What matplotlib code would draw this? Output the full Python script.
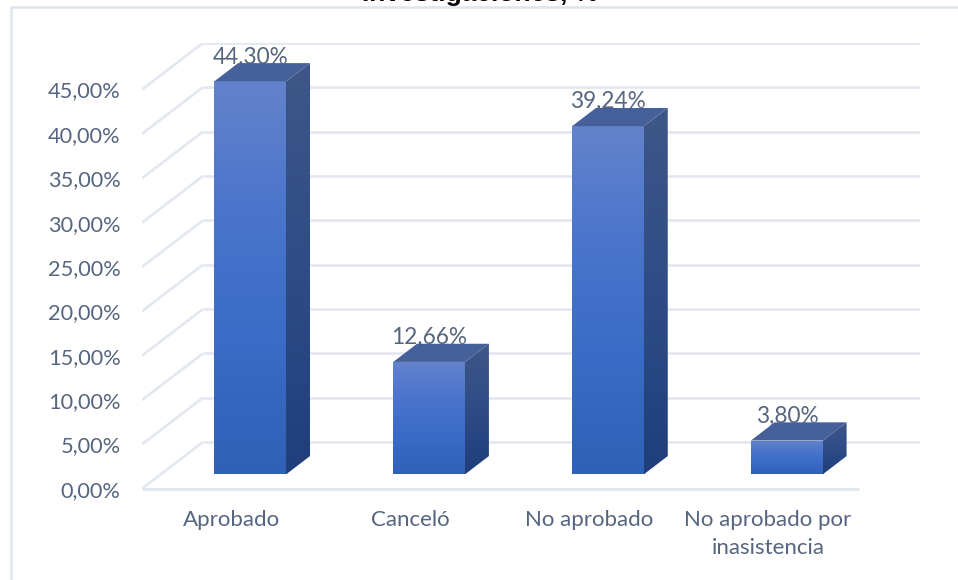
import numpy as np
import matplotlib
matplotlib.use('Agg')
import matplotlib.pyplot as plt
from matplotlib.colors import LinearSegmentedColormap
from matplotlib.lines import Line2D
from matplotlib.patches import Polygon

categories = ['Aprobado', 'Canceló', 'No aprobado', 'No aprobado por\ninasistencia']
values = [44.30, 12.66, 39.24, 3.80]
value_labels = ['44,30%', '12,66%', '39,24%', '3,80%']
y_ticks = [0, 5, 10, 15, 20, 25, 30, 35, 40, 45]
y_tick_labels = ['0,00%', '5,00%', '10,00%', '15,00%', '20,00%', '25,00%', '30,00%', '35,00%', '40,00%', '45,00%']
title = 'Investigaciones, %'

W, H = 958, 580
GRID = '#e3e7f0'
TEXT = '#56657f'

# depth of the 3d box in data units, wall and bars
DX, DY = 0.341, 5.26
BAR_W = 0.402
D0, D1 = 0.31, 0.70

front_cmap = LinearSegmentedColormap.from_list('front', ['#6383cc', '#4a75cb', '#3a6bc6', '#2f61b6'])
side_cmap = LinearSegmentedColormap.from_list('side', ['#3f5788', '#2f4c86', '#1f3e7a'])


def gradient_poly(ax, pts, cmap, z):
    pts = np.array(pts)
    poly = Polygon(pts, closed=True, facecolor='none', edgecolor='none', transform=ax.transData)
    ax.add_patch(poly)
    im = ax.imshow(np.linspace(0, 1, 256).reshape(-1, 1), cmap=cmap, aspect='auto', origin='upper',
                   extent=[pts[:, 0].min(), pts[:, 0].max(), pts[:, 1].min(), pts[:, 1].max()], zorder=z)
    im.set_clip_path(poly)


plt.rcParams['font.family'] = ['Lato', 'DejaVu Sans']
fig = plt.figure(figsize=(W / 100, H / 100), dpi=100)
ax = fig.add_axes([142 / W, (H - 488.7) / H, (920 - 142) / W, (488.7 - 43) / H])

# chart border
fig.add_artist(Line2D([10.5 / W, 10.5 / W, 1], [0, 1 - 7 / H, 1 - 7 / H], color='#dfe5ef', lw=1.8))

# walls
for t in y_ticks:
    ax.plot([-0.5, -0.5 + DX], [t, t + DY], color=GRID, lw=1.9, zorder=1, solid_capstyle='butt')
    ax.plot([-0.5 + DX, 3.85], [t + DY, t + DY], color=GRID, lw=1.9, zorder=1, solid_capstyle='butt')
ax.plot([-0.5, 3.51], [0, 0], color=GRID, lw=2.2, zorder=1, clip_on=False, solid_capstyle='butt')

# bars
for i, v in enumerate(values):
    xl = i - BAR_W / 2 + DX * D0
    xr = xl + BAR_W
    y0 = DY * D0
    ddx = DX * (D1 - D0)
    ddy = DY * (D1 - D0)
    top = y0 + v
    # backing shape so no white seam shows between the faces
    ax.add_patch(Polygon([(xr - 0.005, y0), (xr + 0.005, y0), (xr + 0.005, top), (xr - 0.005, top)],
                         closed=True, facecolor='#2f4c86', edgecolor='none', zorder=4))
    gradient_poly(ax, [(xl, y0), (xr, y0), (xr, top), (xl, top)], front_cmap, 5)
    gradient_poly(ax, [(xr, y0), (xr + ddx, y0 + ddy), (xr + ddx, top + ddy), (xr, top)], side_cmap, 5)
    ax.add_patch(Polygon([(xl, top), (xr, top), (xr + ddx, top + ddy), (xl + ddx, top + ddy)],
                         closed=True, facecolor='#46609a', edgecolor='none', zorder=5))
    ax.text((xl + xr) / 2, top + 2.75, value_labels[i], ha='center', va='center',
            fontsize=16.3, color=TEXT, zorder=3)

ax.set_xlim(-0.5, 3.85)
ax.set_ylim(0, 50.25)
ax.set_xticks(range(len(categories)))
ax.set_xticklabels(categories, fontsize=16, color=TEXT, linespacing=1.5)
ax.set_yticks(y_ticks)
ax.set_yticklabels(y_tick_labels, fontsize=15.7, color=TEXT)
ax.tick_params(axis='x', length=0, pad=15)
ax.tick_params(axis='y', length=0, pad=15.5)
for s in ax.spines.values():
    s.set_visible(False)

# title is cut off by the top edge in the original
fig.text(480 / W, 1 - 1.5 / H, title, ha='center', va='baseline', fontsize=19,
         fontweight='bold', family=['Liberation Sans'], color='black')

fig.savefig('out.png', dpi=100)
